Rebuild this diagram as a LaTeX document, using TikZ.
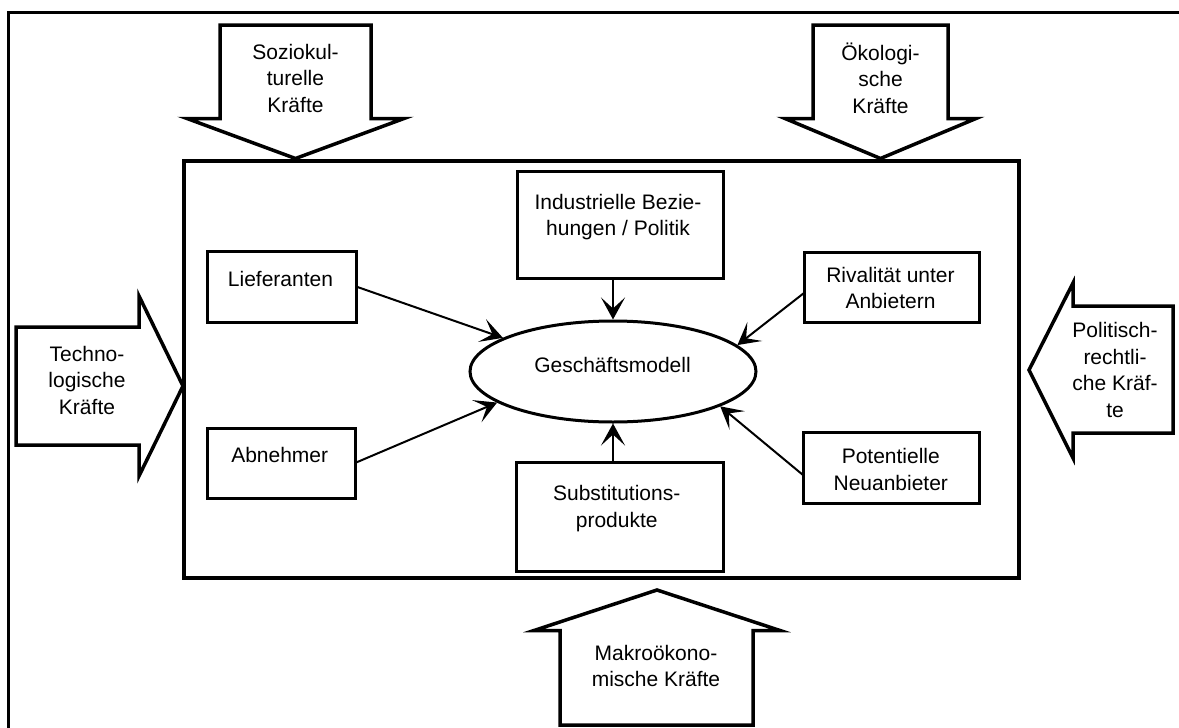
\documentclass[tikz,border=0pt]{standalone}
\usepackage{fontspec}
\setmainfont{Liberation Sans}
\usetikzlibrary{arrows.meta,shapes.geometric,calc}
\begin{document}
\begin{tikzpicture}[x=1pt,y=-1pt,
  frame/.style={line width=3pt},
  blockarrow/.style={draw, line width=3.5pt, line join=miter, fill=white},
  box/.style={draw, line width=3pt, rectangle, inner sep=0pt, outer sep=0pt},
  envbox/.style={draw, line width=3.5pt, rectangle, inner sep=0pt, outer sep=0pt},
  oval/.style={draw, line width=3pt, ellipse, inner sep=0pt},
  lbl/.style={font=\fontsize{21}{26.5}\selectfont, align=center, inner sep=0pt},
  conn/.style={line width=2pt, -{Stealth[length=22pt,width=24pt,inset=11pt]}}
]
\useasboundingbox (0,0) rectangle (1179,728);
\fill[white] (0,0) rectangle (1179,728);
% outer frame (only top and left edges visible)
\draw[frame] (8,740) -- (8,12) -- (1190,12);
% environment box
\node[envbox, minimum width=835pt, minimum height=417pt] (env) at (601.5,369.5) {};
% block arrows
\draw[blockarrow] (220,25) -- (371,25) -- (371,118.5) -- (404,118.5) -- (295.5,158.5) -- (187,118.5) -- (220,118.5) -- cycle;
\draw[blockarrow] (813,25) -- (948,25) -- (948,118.5) -- (976,118.5) -- (880.5,158.5) -- (785,118.5) -- (813,118.5) -- cycle;
\draw[blockarrow] (16,327) -- (139,327) -- (139,296) -- (183,386) -- (139,476) -- (139,445) -- (16,445) -- cycle;
\draw[blockarrow] (1173,306) -- (1073,306) -- (1073,283) -- (1029,370) -- (1073,458) -- (1073,433) -- (1173,433) -- cycle;
\draw[blockarrow] (560,725) -- (560,630.5) -- (534,630.5) -- (657,590) -- (780,630.5) -- (753,630.5) -- (753,725) -- cycle;
% block arrow labels
\node[lbl] (tsozio) at (295.5,78) {Soziokul-\\turelle\\Kräfte};
\node[lbl] (toeko) at (880.5,78) {Ökologi-\\sche\\Kräfte};
\node[lbl] (ttech) at (87,380) {Techno-\\logische\\Kräfte};
\node[lbl] (tpol) at (1115,370) {Politisch-\\rechtli-\\che Kräf-\\te};
\node[lbl] (tmak) at (656,666) {Makroökono-\\mische Kräfte};
% inner boxes
\node[box, minimum width=206pt, minimum height=107pt] (ind) at (620,224.5) {};
\node[box, minimum width=149pt, minimum height=71pt] (lief) at (281.5,286.5) {};
\node[box, minimum width=175pt, minimum height=70pt] (riv) at (891.5,287) {};
\node[box, minimum width=148pt, minimum height=70pt] (abn) at (281,463) {};
\node[box, minimum width=207pt, minimum height=109pt] (sub) at (619.5,516.5) {};
\node[box, minimum width=176pt, minimum height=71pt] (pot) at (891,467.5) {};
\node[oval, minimum width=286pt, minimum height=101pt] (gm) at (613,371.5) {};
% texts
\node[lbl] (tind) at (618,217) {Industrielle Bezie-\\hungen / Politik};
\node[lbl] (tlief) at (280.5,278.5) {Lieferanten};
\node[lbl] (triv) at (890.5,288) {Rivalität unter\\Anbietern};
\node[lbl] (tabn) at (279.7,455) {Abnehmer};
\node[lbl] (tsub) at (616.7,508.5) {Substitutions-\\produkte};
\node[lbl] (tpot) at (890.8,469.5) {Potentielle\\Neuanbieter};
\node[lbl] (tgm) at (612.5,365.3) {Geschäftsmodell};
% connectors
\draw[conn] (lief.east) -- (gm.163);
\draw[conn] (abn.east) -- (gm.195);
\draw[conn] (ind.south -| gm.north) -- (gm.north);
\draw[conn] (sub.north -| gm.south) -- (gm.south);
\draw[conn] ($(riv.west)+(0,6)$) -- (gm.12);
\draw[conn] ($(pot.west)+(0,7.5)$) -- (gm.342);
\end{tikzpicture}
\end{document}
